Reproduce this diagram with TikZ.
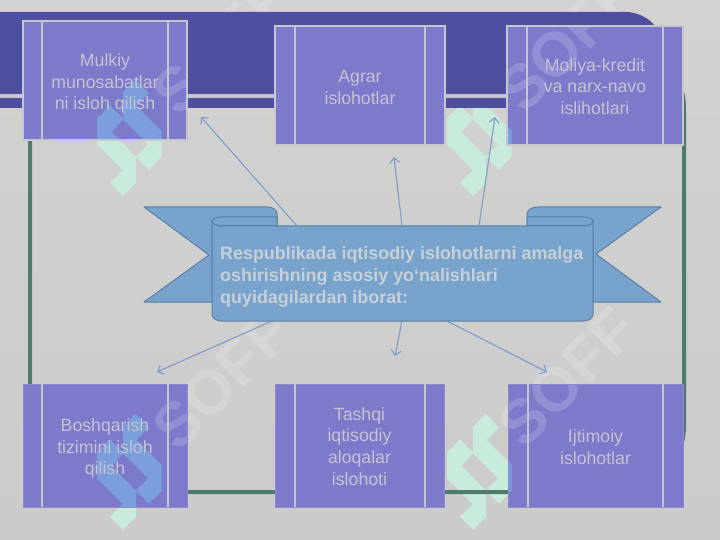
\documentclass[tikz,border=0pt]{standalone}
\usepackage{fontspec}
\setmainfont{Liberation Sans}
\usetikzlibrary{arrows.meta}
\definecolor{bgt}{HTML}{D2D2D0}
\definecolor{bgb}{HTML}{CBCBCB}
\definecolor{bandc}{HTML}{4F4F9F}
\definecolor{framec}{HTML}{4F7A70}
\definecolor{boxc}{HTML}{7D7ACC}
\definecolor{linec}{HTML}{C6C6CE}
\definecolor{txtc}{HTML}{C4C4D0}
\definecolor{headc}{HTML}{C6D0D6}
\definecolor{mintc}{HTML}{C8EBDC}
\definecolor{bluec}{HTML}{7B9FDC}
\definecolor{ribc}{HTML}{78A3CC}
\definecolor{ribl}{HTML}{5A7FA8}
\definecolor{arrc}{HTML}{7D9CCB}
\newcommand{\logoshape}[3]{%
  \fill[#3,even odd rule,shift={(#1,#2)}]
   (50.7,14) -- (64,27.3) -- (51.7,40) -- (76.7,65) -- (76.7,90.7) -- (64,104) -- (51,90.7)
   -- (51,116.7) -- (38,130) -- (25,116.7) -- (38,104) -- (12,78.3) -- (12,52.3) -- (25,39.3)
   -- (38,52.3) -- (38,26.7) -- cycle
   (38,53.3) -- (63.3,78.3) -- (50.7,90.7) -- (26.7,65.7) -- cycle;}
\newcommand{\alllogos}[1]{%
  \logoshape{85}{66}{#1}\logoshape{435}{66}{#1}\logoshape{85}{400}{#1}\logoshape{435}{400}{#1}}
\newcommand{\boxclip}{%
  (23,21) rectangle (187,140) (275,26) rectangle (445,145) (507,26) rectangle (683,145)
  (23,384) rectangle (187,507) (275,384) rectangle (444,507) (508,384) rectangle (683,507)}
\tikzset{
  boxtop/.style={draw=linec,line width=1.2pt,inner sep=0},
  boxbot/.style={draw=boxc!80!linec,line width=.6pt,inner sep=0},
  boxtxt/.style={inner sep=0,align=center,text=txtc,font=\fontsize{17.7}{21.7}\selectfont},
  innerln/.style={draw=linec,line width=1.2pt},
  ribbonpart/.style={fill=ribc,draw=ribl,line width=1pt,line join=round},
  ribarrow/.style={draw=arrc,line width=1.1pt,-{Straight Barb[length=5pt,width=10pt]}},
  wmtext/.style={rotate=45,white,opacity=0.17,inner sep=0,font=\bfseries\fontsize{62}{62}\selectfont},
}
\begin{document}
\begin{tikzpicture}[x=1pt,y=-1pt]
\useasboundingbox (0,0) rectangle (720,540);
\fill[top color=bgt,bottom color=bgb] (0,0) rectangle (720,540);
\alllogos{mintc}
% frame
\draw[framec,line width=4pt,rounded corners=66pt] (30,42) rectangle (684,492);
% band
\fill[bandc] (0,12) -- (625,12) .. controls (647,12) and (665,30) .. (665,52) -- (665,108) -- (0,108) -- cycle;
\fill[linec] (0,94.5) rectangle (507,98);
% box fills
\fill[boxc] \boxclip;
\begin{scope}
  \clip \boxclip;
  \alllogos{bluec}
\end{scope}
% watermark: on everything but the dark band
\begin{scope}
  \clip (0,0) rectangle (720,12) (665,12) rectangle (720,108) (0,108) rectangle (720,540) \boxclip;
  \foreach \cx/\cy in {222/45,568/42,222/380,568/377}{\node[wmtext] at (\cx,\cy) {SOFF};}
\end{scope}
% boxes
\node[boxtop,minimum width=164pt,minimum height=119pt] (b1) at (105,80.5) {};
\node[boxtop,minimum width=170pt,minimum height=119pt] (b2) at (360,85.5) {};
\node[boxtop,minimum width=176pt,minimum height=119pt] (b3) at (595,85.5) {};
\node[boxbot,minimum width=164pt,minimum height=123pt] (b4) at (105,445.5) {};
\node[boxbot,minimum width=169pt,minimum height=123pt] (b5) at (359.5,445.5) {};
\node[boxbot,minimum width=175pt,minimum height=123pt] (b6) at (595.5,445.5) {};
\node[boxtxt] (t1) at (105,83.5) {Mulkiy\\munosabatlar\\ni isloh qilish};
\node[boxtxt] (t2) at (360,87.5) {Agrar\\islohotlar};
\node[boxtxt] (t3) at (595,86.5) {Moliya-kredit\\va narx-navo\\islihotlari};
\node[boxtxt] (t4) at (105,448.5) {Boshqarish\\tizimini isloh\\qilish};
\node[boxtxt] (t5) at (359.5,446.5) {Tashqi\\iqtisodiy\\aloqalar\\islohoti};
\node[boxtxt] (t6) at (595.5,447.5) {Ijtimoiy\\islohotlar};
\draw[innerln] (42,21) -- (42,140) (168,21) -- (168,140);
\draw[innerln] (295,26) -- (295,145) (425,26) -- (425,145);
\draw[innerln] (527,26) -- (527,145) (663,26) -- (663,145);
\draw[innerln] (42,384) -- (42,507) (168,384) -- (168,507);
\draw[innerln] (295,384) -- (295,507) (425,384) -- (425,507);
\draw[innerln] (528,384) -- (528,507) (663,384) -- (663,507);
% arrows
\coordinate (s1) at (297,226); \coordinate (e1) at (201,117);
\coordinate (s2) at (402,226); \coordinate (e2) at (394,157);
\coordinate (s3) at (479,226); \coordinate (e3) at (495,117);
\coordinate (s4) at (272,321); \coordinate (e4) at (157,372);
\coordinate (s5) at (402,321); \coordinate (e5) at (395,356);
\coordinate (s6) at (447,321); \coordinate (e6) at (547,372);
\foreach \i in {1,...,6}{\draw[ribarrow] (s\i) -- (e\i);}
% ribbon back parts
\draw[ribbonpart] (144,207) -- (267,207) .. controls (273,207) and (277,210) .. (277,214) -- (277,230) -- (212,230) -- (212,302) -- (144,302) -- (209,255) -- cycle;
\draw[ribbonpart] (661,207) -- (538,207) .. controls (532,207) and (527,210) .. (527,214) -- (527,230) -- (593,230) -- (593,302) -- (661,302) -- (596,254) -- cycle;
% ribbon caps
\draw[ribbonpart] (212,221) .. controls (212,219) and (216,217) .. (222,217) -- (277,217) -- (277,226) -- (222,226) .. controls (216,226) and (212,224) .. (212,221) -- cycle;
\draw[ribbonpart] (593,221) .. controls (593,219) and (589,217) .. (583,217) -- (527,217) -- (527,226) -- (583,226) .. controls (589,226) and (593,224) .. (593,221) -- cycle;
% ribbon front
\draw[ribbonpart] (212,221) .. controls (212,224) and (216,226) .. (222,226) -- (583,226) .. controls (589,226) and (593,224) .. (593,221) -- (593,314) .. controls (593,318) and (589,321) .. (583,321) -- (222,321) .. controls (216,321) and (212,318) .. (212,314) -- cycle;
\node[anchor=west,inner sep=0,align=left,text=headc,font=\bfseries\fontsize{17.9}{21.9}\selectfont] (rt) at (220,277) {Respublikada iqtisodiy islohotlarni amalga\\oshirishning asosiy yo‘nalishlari\\quyidagilardan iborat:};
\end{tikzpicture}
\end{document}
